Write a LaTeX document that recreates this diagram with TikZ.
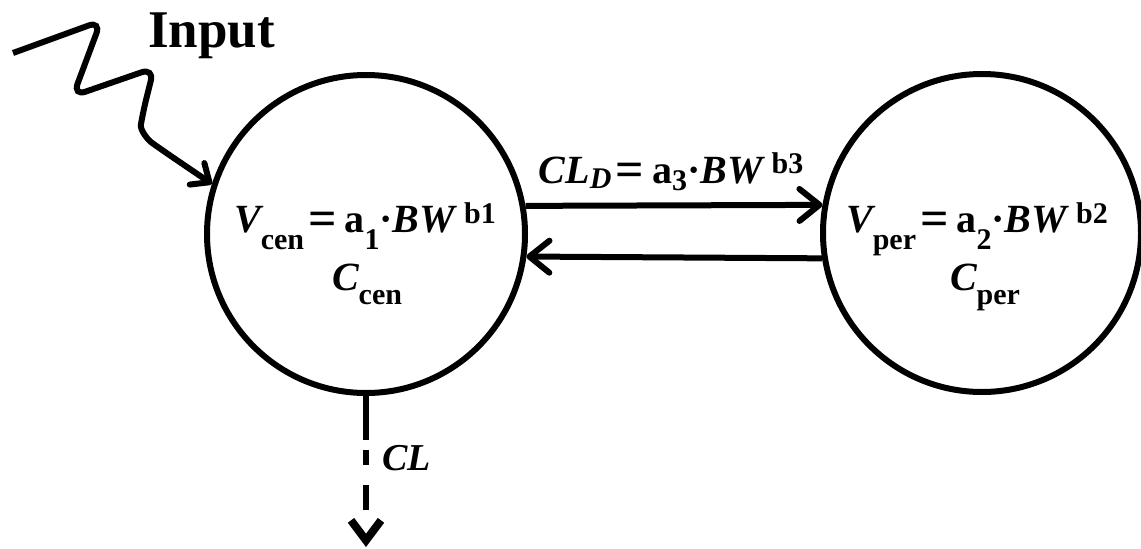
\documentclass[tikz,border=0pt]{standalone}
\usepackage{fontspec}
\setmainfont{Liberation Serif}
\usetikzlibrary{arrows.meta}
\newcommand\dnx[2]{\raisebox{-#1pt}{\fontsize{30}{30}\selectfont #2}}
\newcommand\upx[2]{\raisebox{#1pt}{\fontsize{30}{30}\selectfont #2}}
\newcommand\eqs{\hspace{4pt}\raisebox{-3.5pt}{\fontsize{50}{50}\selectfont =}\hspace{8pt}}
\begin{document}
\begin{tikzpicture}[x=1pt,y=-1pt,
  comp/.style={circle,draw=black,line width=6pt,minimum size=318pt,inner sep=0pt},
  lab/.style={inner sep=0pt,font=\bfseries\fontsize{40}{48}\selectfont},
  arr/.style={line width=6pt,-{Straight Barb[length=20pt,width=32pt,round]}},
  inarr/.style={line width=6pt,rounded corners=13pt,-{Straight Barb[length=15pt,width=26pt,round]}},
  dsh/.style={line width=6pt,dash pattern=on 44pt off 10pt on 15pt off 20pt on 25pt off 60pt,
     -{Straight Barb[length=20pt,width=30pt,line width=8pt]}}]
\useasboundingbox (0,0) rectangle (1141,549);
\node[comp] (L) at (366,234) {};
\node[comp] (R) at (982,233) {};
% texts
\node[lab,anchor=base] (Lv) at (365,232) {{\itshape V}\dnx{17}{cen}\eqs a\dnx{17}{1}·{\itshape BW}\hspace{9pt}\upx{9}{b1}};
\node[lab,anchor=base] (Lc) at (367,290) {{\itshape C}\dnx{14}{cen}};
\node[lab,anchor=base] (Rv) at (977,232) {{\itshape V}\dnx{17}{per}\eqs a\dnx{17}{2}·{\itshape BW}\hspace{9pt}\upx{9}{b2}};
\node[lab,anchor=base] (Rc) at (985,290) {{\itshape C}\dnx{14}{per}};
\node[lab,anchor=base] (cld) at (671,183) {{\itshape CL}\dnx{5}{\itshape D}\eqs a\dnx{7}{3}·{\itshape BW}\hspace{9pt}\upx{10}{b3}};
\node[lab,anchor=base west,font=\bfseries\itshape\fontsize{38}{44}\selectfont] (cl) at (382,470) {CL};
\node[lab,anchor=base west,font=\bfseries\fontsize{53}{60}\selectfont] (inp) at (148,47) {Input};
% connectors
\draw[arr] (L.10) -- (R.170.4);
\draw[arr] (R.189.1) -- (L.-8.7);
\coordinate (clend) at (366,547);
\draw[dsh] (L.south) -- (clend);
\coordinate (instart) at (13,53);
\draw[inarr] (instart) -- (101,21) -- (73,96) -- (154,68) -- (143,112)
   .. controls (140,130) and (148,140) .. (162,150) -- (L.162);
\end{tikzpicture}
\end{document}
